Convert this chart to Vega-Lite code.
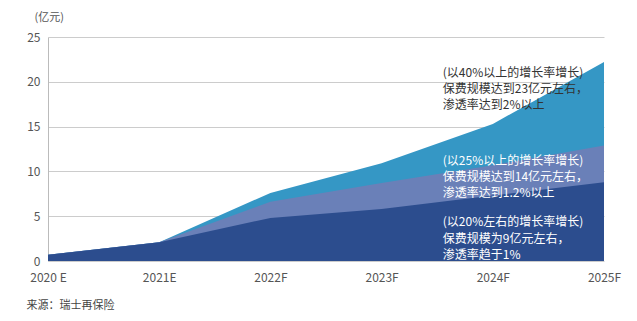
{
  "$schema": "https://vega.github.io/schema/vega-lite/v6.json",
  "autosize": "none",
  "width": 556,
  "height": 224,
  "padding": {"left": 48, "top": 37, "right": 33, "bottom": 60},
  "background": "white",
  "config": {"view": {"stroke": null}, "font": "Noto Sans CJK SC"},
  "datasets": {
    "series": [
      {"year": "2020 E", "scenario": "high", "value": 0.7},
      {"year": "2021E", "scenario": "high", "value": 2.1},
      {"year": "2022F", "scenario": "high", "value": 7.6},
      {"year": "2023F", "scenario": "high", "value": 10.9},
      {"year": "2024F", "scenario": "high", "value": 15.3},
      {"year": "2025F", "scenario": "high", "value": 22.2},
      {"year": "2020 E", "scenario": "mid", "value": 0.7},
      {"year": "2021E", "scenario": "mid", "value": 2.1},
      {"year": "2022F", "scenario": "mid", "value": 6.6},
      {"year": "2023F", "scenario": "mid", "value": 8.7},
      {"year": "2024F", "scenario": "mid", "value": 10.7},
      {"year": "2025F", "scenario": "mid", "value": 12.9},
      {"year": "2020 E", "scenario": "low", "value": 0.7},
      {"year": "2021E", "scenario": "low", "value": 2.1},
      {"year": "2022F", "scenario": "low", "value": 4.8},
      {"year": "2023F", "scenario": "low", "value": 5.8},
      {"year": "2024F", "scenario": "low", "value": 7.3},
      {"year": "2025F", "scenario": "low", "value": 8.8}
    ],
    "notes": [
      {"year": "2024F", "value": 21.0, "text": "(以40%以上的增长率增长)", "group": "high", "bold": true},
      {"year": "2024F", "value": 19.2, "text": "保费规模达到23亿元左右，", "group": "high", "bold": false},
      {"year": "2024F", "value": 17.4, "text": "渗透率达到2%以上", "group": "high", "bold": false},
      {"year": "2024F", "value": 11.2, "text": "(以25%以上的增长率增长)", "group": "mid", "bold": true},
      {"year": "2024F", "value": 9.4, "text": "保费规模达到14亿元左右，", "group": "mid", "bold": false},
      {"year": "2024F", "value": 7.6, "text": "渗透率达到1.2%以上", "group": "mid", "bold": false},
      {"year": "2024F", "value": 4.3, "text": "(以20%左右的增长率增长)", "group": "low", "bold": true},
      {"year": "2024F", "value": 2.5, "text": "保费规模为9亿元左右，", "group": "low", "bold": false},
      {"year": "2024F", "value": 0.7, "text": "渗透率趋于1%", "group": "low", "bold": false}
    ]
  },
  "encoding": {
    "x": {
      "field": "year", "type": "ordinal",
      "sort": ["2020 E", "2021E", "2022F", "2023F", "2024F", "2025F"],
      "scale": {"type": "point", "padding": 0},
      "axis": {
        "title": "来源：瑞士再保险", "titleAnchor": "start", "titleX": -22, "titleY": 38,
        "titleFont": "Noto Sans CJK SC", "titleFontSize": 11, "titleFontWeight": "normal", "titleColor": "#444",
        "labelAngle": 0, "labelFont": "Noto Sans CJK SC", "labelFontSize": 12, "labelColor": "#555",
        "labelPadding": 11, "ticks": false, "domain": false, "grid": false
      }
    },
    "y": {
      "field": "value", "type": "quantitative",
      "scale": {"domain": [0, 25]},
      "axis": {
        "values": [0, 5, 10, 15, 20, 25],
        "title": "(亿元)", "titleAngle": 0, "titleAnchor": "end", "titleAlign": "left",
        "titleX": -14, "titleY": -15, "titleFont": "Noto Sans CJK SC", "titleFontSize": 11,
        "titleFontWeight": "normal", "titleColor": "#555",
        "labelFont": "Noto Sans CJK SC", "labelFontSize": 12, "labelColor": "#555", "labelPadding": 8,
        "ticks": false, "domain": true, "domainColor": "#bbb", "grid": true, "gridColor": "#ccc"
      }
    }
  },
  "layer": [
    {
      "data": {"name": "series"},
      "mark": {"type": "area", "interpolate": "linear"},
      "encoding": {
        "y": {"field": "value", "type": "quantitative", "stack": null},
        "color": {
          "field": "scenario", "type": "nominal",
          "scale": {"domain": ["high", "mid", "low"], "range": ["#3597C5", "#6A80B8", "#2C4D8E"]},
          "legend": null
        },
        "order": {"field": "scenario", "sort": "ascending"}
      }
    },
    {
      "data": {"name": "notes"},
      "mark": {"type": "text", "align": "left", "baseline": "middle", "dx": -50, "fontSize": 12, "font": "Noto Sans CJK SC"},
      "encoding": {
        "text": {"field": "text"},
        "color": {"condition": {"test": "datum.group === 'high'", "value": "#333333"}, "value": "#ffffff"},
        "fontWeight": {"condition": {"test": "datum.bold", "value": "bold"}, "value": "normal"}
      }
    }
  ]
}
